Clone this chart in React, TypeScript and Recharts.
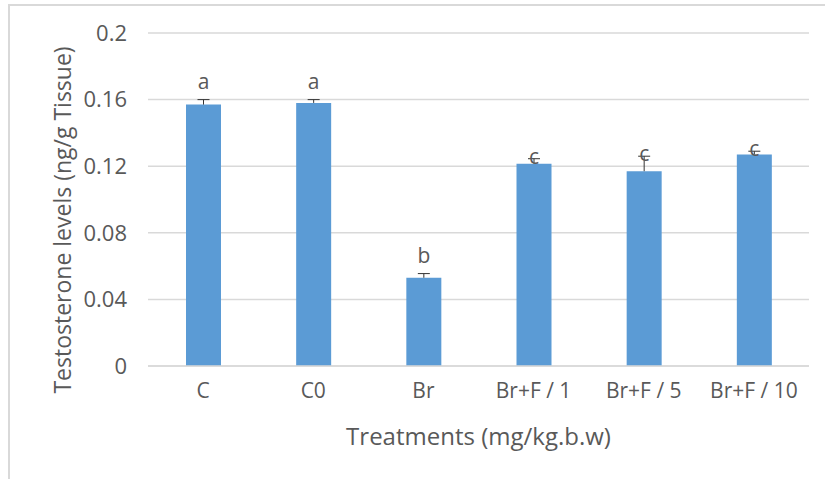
import React from 'react';
import { BarChart, Bar, XAxis, YAxis, CartesianGrid, LabelList, Label } from 'recharts';

const treatments = ['C', 'C0', 'Br', 'Br+F / 1', 'Br+F / 5', 'Br+F / 10'];
const testosterone = [0.157, 0.158, 0.053, 0.1215, 0.117, 0.127];
const stdError = [0.003, 0.002, 0.0025, 0.003, 0.009, 0.002];
const sigLetters = ['a', 'a', 'b', 'c', 'c', 'c'];
const yTicks = [0, 0.04, 0.08, 0.12, 0.16, 0.2];

const data = treatments.map((name, i) => ({
  name,
  value: testosterone[i],
  err: stdError[i],
  sig: sigLetters[i],
}));

const FONT = '"Open Sans", sans-serif';
const TEXT = '#595959';

// error bar (plus side only, like Excel) + significance letter
const BarTop = (props: any) => {
  const { x, y, width, height, index } = props;
  const d = data[index];
  const pxPerUnit = height / d.value;
  const errTop = y - d.err * pxPerUnit;
  const cx = x + width / 2;
  const letterY = d.sig === 'c' ? errTop + 5 : errTop - 11;
  return (
    <g>
      <line x1={cx} x2={cx} y1={y} y2={errTop} stroke="#333" strokeWidth={1} />
      <line x1={cx - 6} x2={cx + 6} y1={errTop} y2={errTop} stroke="#333" strokeWidth={1} />
      <text x={cx} y={letterY} textAnchor="middle" fill={TEXT} fontSize={21} fontFamily={FONT}>
        {d.sig}
      </text>
    </g>
  );
};

export default function App() {
  return (
    <div style={{ position: 'absolute', left: 0, top: 0, width: 825, height: 479, background: '#fff' }}>
      <div
        style={{
          position: 'absolute',
          left: 8,
          top: 4,
          width: 817,
          height: 475,
          borderTop: '2px solid #d9d9d9',
          borderLeft: '2px solid #d9d9d9',
          boxSizing: 'border-box',
        }}
      />
      <div style={{ position: 'absolute', left: 0, top: 0 }}>
        <BarChart
          width={825}
          height={479}
          data={data}
          margin={{ top: 33, right: 16, bottom: 73, left: 0 }}
          barCategoryGap={0}
        >
          <CartesianGrid vertical={false} stroke="#d9d9d9" strokeWidth={1.5} />
          <XAxis
            dataKey="name"
            axisLine={{ stroke: '#d9d9d9', strokeWidth: 1.5 }}
            tickLine={false}
            tickSize={0}
            tickMargin={17}
            height={40}
            interval={0}
            tick={{ fill: TEXT, fontSize: 21, fontFamily: FONT }}
          >
            <Label
              content={(p: any) => {
                const vb = p.viewBox;
                return (
                  <text
                    x={vb.x + vb.width / 2}
                    y={vb.y + 79}
                    textAnchor="middle"
                    fill={TEXT}
                    fontSize={24}
                    fontFamily={FONT}
                  >
                    Treatments (mg/kg.b.w)
                  </text>
                );
              }}
            />
          </XAxis>
          <YAxis
            domain={[0, 0.2]}
            ticks={yTicks}
            width={148}
            axisLine={false}
            tickLine={false}
            tickSize={0}
            tickMargin={21}
            tickFormatter={(v: number) => String(v)}
            tick={{ fill: TEXT, fontSize: 22, fontFamily: FONT }}
          >
            <Label
              content={() => {
                const cx = 62;
                const cy = 220;
                return (
                  <text
                    x={cx}
                    y={cy}
                    transform={`rotate(-90, ${cx}, ${cy})`}
                    textAnchor="middle"
                    dominantBaseline="central"
                    fill={TEXT}
                    fontSize={23}
                    fontFamily={FONT}
                  >
                    Testosterone levels (ng/g Tissue)
                  </text>
                );
              }}
            />
          </YAxis>
          <Bar dataKey="value" fill="#5B9BD5" barSize={35} isAnimationActive={false}>
            <LabelList dataKey="value" content={BarTop} />
          </Bar>
        </BarChart>
      </div>
    </div>
  );
}
